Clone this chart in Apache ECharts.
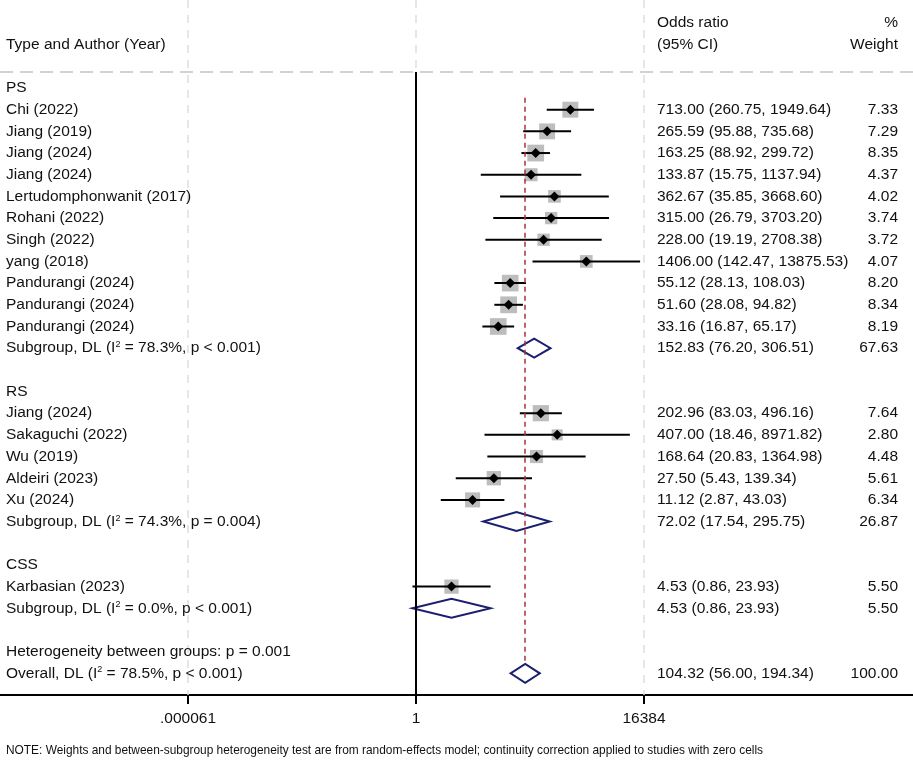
<!DOCTYPE html>
<html lang="en">
<head>
  <meta charset="UTF-8">
  <title>Forest plot</title>
  <style>
    html, body { margin: 0; padding: 0; background: #fff; }
    #main { width: 913px; height: 763px; }
  </style>
</head>
<body>
  <script src="https://cdn.jsdelivr.net/npm/echarts@6/dist/echarts.min.js"></script>
  <div id="main"></div>
  <script type="text/javascript">
    // rows, top to bottom
    var rowLabels = [
      'PS', 'Chi (2022)', 'Jiang (2019)', 'Jiang (2024)', 'Jiang (2024)', 'Lertudomphonwanit (2017)',
      'Rohani (2022)', 'Singh (2022)', 'yang (2018)', 'Pandurangi (2024)', 'Pandurangi (2024)',
      'Pandurangi (2024)', 'Subgroup, DL (I{sup|2} = 78.3%, p < 0.001)', '',
      'RS', 'Jiang (2024)', 'Sakaguchi (2022)', 'Wu (2019)', 'Aldeiri (2023)', 'Xu (2024)',
      'Subgroup, DL (I{sup|2} = 74.3%, p = 0.004)', '',
      'CSS', 'Karbasian (2023)', 'Subgroup, DL (I{sup|2} = 0.0%, p < 0.001)', '',
      'Heterogeneity between groups: p = 0.001', 'Overall, DL (I{sup|2} = 78.5%, p < 0.001)'
    ];
    var rowKinds = [
      'group', 'study', 'study', 'study', 'study', 'study', 'study', 'study', 'study', 'study', 'study',
      'study', 'pooled', 'blank',
      'group', 'study', 'study', 'study', 'study', 'study', 'pooled', 'blank',
      'group', 'study', 'pooled', 'blank',
      'text', 'pooled'
    ];
    var oddsRatio = [
      null, 713.00, 265.59, 163.25, 133.87, 362.67, 315.00, 228.00, 1406.00, 55.12, 51.60, 33.16, 152.83, null,
      null, 202.96, 407.00, 168.64, 27.50, 11.12, 72.02, null,
      null, 4.53, 4.53, null,
      null, 104.32
    ];
    var ciLow = [
      null, 260.75, 95.88, 88.92, 15.75, 35.85, 26.79, 19.19, 142.47, 28.13, 28.08, 16.87, 76.20, null,
      null, 83.03, 18.46, 20.83, 5.43, 2.87, 17.54, null,
      null, 0.86, 0.86, null,
      null, 56.00
    ];
    var ciHigh = [
      null, 1949.64, 735.68, 299.72, 1137.94, 3668.60, 3703.20, 2708.38, 13875.53, 108.03, 94.82, 65.17, 306.51, null,
      null, 496.16, 8971.82, 1364.98, 139.34, 43.03, 295.75, null,
      null, 23.93, 23.93, null,
      null, 194.34
    ];
    var weights = [
      null, 7.33, 7.29, 8.35, 4.37, 4.02, 3.74, 3.72, 4.07, 8.20, 8.34, 8.19, 67.63, null,
      null, 7.64, 2.80, 4.48, 5.61, 6.34, 26.87, null,
      null, 5.50, 5.50, null,
      null, 100.00
    ];
    var overallOR = 104.32;
    var tickValues = [0.00006103515625, 1, 16384];
    var tickLabels = ['.000061', '1', '16384'];
    var note = 'NOTE: Weights and between-subgroup heterogeneity test are from random-effects model; continuity correction applied to studies with zero cells';

    var FONT = '"Liberation Sans", Arial, sans-serif';
    var NAVY = '#1b1f72';
    var lg = function (v) { return Math.log(v) / Math.LN2; };

    // data for the series (x in log2 units, y = row index)
    var studyData = [], pooledData = [], textData = [];
    rowKinds.forEach(function (k, i) {
      textData.push([0, i]);
      if (k === 'study') studyData.push([lg(oddsRatio[i]), i, lg(ciLow[i]), lg(ciHigh[i]), weights[i]]);
      if (k === 'pooled') pooledData.push([lg(oddsRatio[i]), i, lg(ciLow[i]), lg(ciHigh[i])]);
    });
    var overallX = lg(overallOR);
    var headerRowTop = -3, headerRowBottom = -2, headerLine = -0.74;

    var myChart = echarts.init(document.getElementById('main'));

    var txt = function (text, x, y, align) {
      return {
        type: 'text',
        style: {
          text: text, x: x, y: y, align: align, verticalAlign: 'middle',
          font: '15.5px ' + FONT, fill: '#111',
          rich: { sup: { fontSize: 9, fontFamily: FONT, verticalAlign: 'top', fill: '#111' } }
        }
      };
    };

    var option = {
      animation: false,
      backgroundColor: '#fff',
      grid: { left: 0, right: 0, top: 0, bottom: 68, outerBoundsMode: 'none', containLabel: false },
      xAxis: {
        type: 'value',
        min: -25.544, max: 30.518,
        splitLine: { show: false },
        axisLine: { onZero: false, lineStyle: { color: '#000', width: 2 } },
        axisTick: { customValues: tickValues.map(lg), length: 9, lineStyle: { color: '#000', width: 2 } },
        axisLabel: {
          customValues: tickValues.map(lg), margin: 16, color: '#111', fontSize: 15.5, fontFamily: FONT,
          formatter: function (v) {
            for (var j = 0; j < tickValues.length; j++) {
              if (Math.abs(lg(tickValues[j]) - v) < 1e-6) return tickLabels[j];
            }
            return '';
          }
        }
      },
      yAxis: { type: 'value', inverse: true, min: -4.06, max: 28, show: false },
      graphic: [{
        type: 'text', left: 6, top: 745,
        style: { text: note, font: '11.9px ' + FONT, fill: '#111' }
      }],
      series: [
        {
          // reference lines behind everything
          type: 'custom', z: 1, data: [],
          renderItem: function () { return null; },
          markLine: {
            silent: true, symbol: 'none', label: { show: false },
            data: tickValues.map(function (t) {
              return { xAxis: lg(t), lineStyle: { color: '#dedede', type: [8, 7], width: 1.5 } };
            }).concat([
              { yAxis: headerLine, lineStyle: { color: '#c4c4c4', type: [13, 7], width: 1.5 } },
              [{ coord: [0, headerLine], lineStyle: { color: '#000', type: 'solid', width: 2 } }, { coord: [0, 28] }]
            ])
          }
        },
        {
          // individual studies: weight square, CI line, point estimate
          type: 'custom', z: 3, data: studyData,
          renderItem: function (params, api) {
            var y = api.value(1);
            var c = api.coord([api.value(0), y]);
            var l = api.coord([api.value(2), y]);
            var h = api.coord([api.value(3), y]);
            var s = 3.2 + 4.7 * Math.sqrt(api.value(4));
            var d = 5;
            return {
              type: 'group',
              children: [
                { type: 'rect', shape: { x: c[0] - s / 2, y: c[1] - s / 2, width: s, height: s }, style: { fill: '#bdbdbd' } },
                { type: 'line', shape: { x1: l[0], y1: l[1], x2: h[0], y2: h[1] }, style: { stroke: '#000', lineWidth: 2 } },
                { type: 'polygon', shape: { points: [[c[0] - d, c[1]], [c[0], c[1] - d], [c[0] + d, c[1]], [c[0], c[1] + d]] }, style: { fill: '#000' } }
              ]
            };
          }
        },
        {
          // pooled estimates
          type: 'custom', z: 3, data: pooledData,
          renderItem: function (params, api) {
            var y = api.value(1);
            var c = api.coord([api.value(0), y]);
            var l = api.coord([api.value(2), y]);
            var h = api.coord([api.value(3), y]);
            var hh = 9.5;
            return {
              type: 'polygon',
              shape: { points: [[l[0], c[1]], [c[0], c[1] - hh], [h[0], c[1]], [c[0], c[1] + hh]] },
              style: { fill: '#fff', stroke: NAVY, lineWidth: 2 }
            };
          }
        },
        {
          // overall effect line
          type: 'custom', z: 4, data: [],
          renderItem: function () { return null; },
          markLine: {
            silent: true, symbol: 'none', label: { show: false },
            lineStyle: { color: '#a8323e', type: [5, 4], width: 1.5 },
            data: [[{ coord: [overallX, 0.45] }, { coord: [overallX, 26.6] }]]
          }
        },
        {
          // table text
          type: 'custom', z: 5, data: textData,
          renderItem: function (params, api) {
            var i = api.value(1);
            var y = api.coord([0, i])[1];
            var kids = [];
            if (rowLabels[i]) kids.push(txt(rowLabels[i], 6, y, 'left'));
            if (oddsRatio[i] != null) {
              kids.push(txt(oddsRatio[i].toFixed(2) + ' (' + ciLow[i].toFixed(2) + ', ' + ciHigh[i].toFixed(2) + ')', 657, y, 'left'));
              kids.push(txt(weights[i].toFixed(2), 898, y, 'right'));
            }
            return { type: 'group', children: kids };
          }
        },
        {
          // column headers
          type: 'custom', z: 5, data: [[0, headerRowTop], [0, headerRowBottom]],
          renderItem: function (params, api) {
            var r = api.value(1);
            var y = api.coord([0, r])[1];
            if (r === headerRowTop) {
              return { type: 'group', children: [txt('Odds ratio', 657, y, 'left'), txt('%', 898, y, 'right')] };
            }
            return {
              type: 'group',
              children: [txt('Type and Author (Year)', 6, y, 'left'), txt('(95% CI)', 657, y, 'left'), txt('Weight', 898, y, 'right')]
            };
          }
        }
      ]
    };

    myChart.setOption(option);
  </script>
</body>
</html>
